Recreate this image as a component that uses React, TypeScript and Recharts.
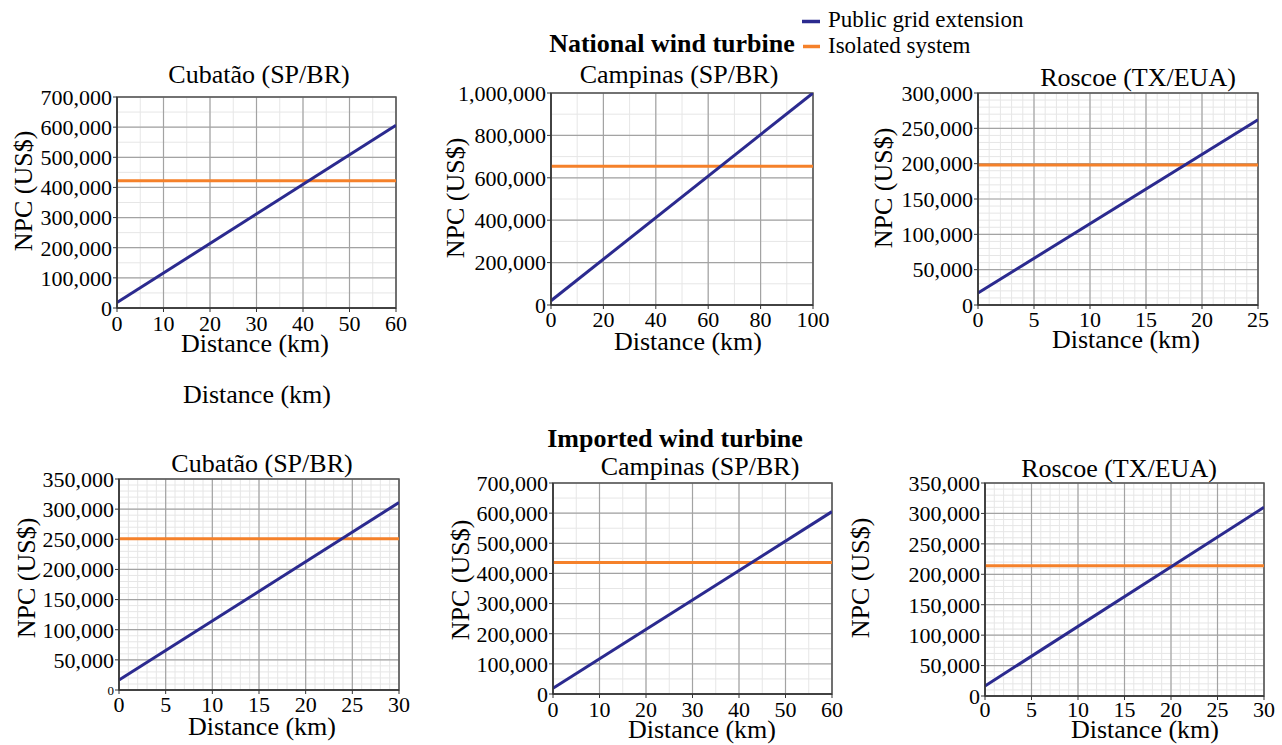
import {
  CartesianGrid,
  Line,
  LineChart,
  ReferenceArea,
  XAxis,
  YAxis,
} from 'recharts';

const FONT = 'Liberation Serif, DejaVu Serif, serif';
const BLUE = '#2b2a8f';
const ORANGE = '#f5812a';

// National wind turbine
const natCubataoDistance = [0, 60];
const natCubataoGrid = [18000, 606000];
const natCubataoIsolated = [422000, 422000];
const natCubataoXTicks = [0, 10, 20, 30, 40, 50, 60];
const natCubataoYTicks = [0, 100000, 200000, 300000, 400000, 500000, 600000, 700000];

const natCampinasDistance = [0, 100];
const natCampinasGrid = [20000, 1000000];
const natCampinasIsolated = [655000, 655000];
const natCampinasXTicks = [0, 20, 40, 60, 80, 100];
const natCampinasYTicks = [0, 200000, 400000, 600000, 800000, 1000000];

const natRoscoeDistance = [0, 25];
const natRoscoeGrid = [17000, 262000];
const natRoscoeIsolated = [198000, 198000];
const natRoscoeXTicks = [0, 5, 10, 15, 20, 25];
const natRoscoeYTicks = [0, 50000, 100000, 150000, 200000, 250000, 300000];

// Imported wind turbine
const impCubataoDistance = [0, 30];
const impCubataoGrid = [16500, 311000];
const impCubataoIsolated = [251000, 251000];
const impCubataoXTicks = [0, 5, 10, 15, 20, 25, 30];
const impCubataoYTicks = [0, 50000, 100000, 150000, 200000, 250000, 300000, 350000];

const impCampinasDistance = [0, 60];
const impCampinasGrid = [19000, 605000];
const impCampinasIsolated = [436000, 436000];
const impCampinasXTicks = [0, 10, 20, 30, 40, 50, 60];
const impCampinasYTicks = [0, 100000, 200000, 300000, 400000, 500000, 600000, 700000];

const impRoscoeDistance = [0, 30];
const impRoscoeGrid = [16500, 310000];
const impRoscoeIsolated = [214000, 214000];
const impRoscoeXTicks = [0, 5, 10, 15, 20, 25, 30];
const impRoscoeYTicks = [0, 50000, 100000, 150000, 200000, 250000, 300000, 350000];

// minor grid positions
const steps = (max: number, step: number) => {
  const out: number[] = [];
  for (let v = 0; v <= max + 1e-9; v += step) out.push(v);
  return out;
};

const fmt = (v: number) => v.toLocaleString('en-US');

type Plot = { left: number; top: number; right: number; bottom: number };

type PanelProps = {
  distance: number[];
  grid: number[];
  isolated: number[];
  xTicks: number[];
  yTicks: number[];
  xMinor: number;
  yMinor: number;
  plot: Plot;
  xGap?: number;
  zeroSize?: number;
};

const PAD_L = 110;
const PAD_T = 15;
const PAD_R = 25;
const PAD_B = 40;

function YTick(props: any) {
  const { x, y, payload, zeroSize } = props;
  const size = payload.value === 0 && zeroSize ? zeroSize : 22;
  return (
    <text x={x} y={y} dy="0.355em" textAnchor="end" fill="#000" fontSize={size} style={{ fontFamily: FONT }}>
      {fmt(payload.value)}
    </text>
  );
}

function Panel({
  distance,
  grid,
  isolated,
  xTicks,
  yTicks,
  xMinor,
  yMinor,
  plot,
  xGap = 2,
  zeroSize,
}: PanelProps) {
  const data = distance.map((d, i) => ({ distance: d, grid: grid[i], isolated: isolated[i] }));
  const xMax = xTicks[xTicks.length - 1];
  const yMax = yTicks[yTicks.length - 1];
  const width = plot.right - plot.left + PAD_L + PAD_R;
  const height = plot.bottom - plot.top + PAD_T + PAD_B;

  return (
    <div style={{ position: 'absolute', left: plot.left - PAD_L, top: plot.top - PAD_T, fontFamily: FONT }}>
      <LineChart
        width={width}
        height={height}
        data={data}
        margin={{ top: PAD_T, right: PAD_R, bottom: 0, left: 0 }}
        style={{ fontFamily: FONT }}
      >
        <CartesianGrid
          stroke="#e6e6e6"
          strokeWidth={1}
          verticalValues={steps(xMax, xMinor)}
          horizontalValues={steps(yMax, yMinor)}
        />
        <CartesianGrid
          stroke="#a3a3a3"
          strokeWidth={1.2}
          verticalValues={xTicks}
          horizontalValues={yTicks}
        />
        <XAxis
          dataKey="distance"
          type="number"
          domain={[0, xMax]}
          ticks={xTicks}
          allowDataOverflow
          interval={0}
          height={PAD_B}
          tickSize={4}
          tickMargin={xGap}
          axisLine={{ stroke: '#333', strokeWidth: 1.5 }}
          tickLine={{ stroke: '#333' }}
          tick={{ fill: '#000', fontSize: 22, style: { fontFamily: FONT } }}
        />
        <YAxis
          type="number"
          domain={[0, yMax]}
          ticks={yTicks}
          allowDataOverflow
          interval={0}
          width={PAD_L}
          tickSize={4}
          tickMargin={1}
          axisLine={{ stroke: '#333', strokeWidth: 1.5 }}
          tickLine={{ stroke: '#333' }}
          tick={(p: any) => <YTick {...p} zeroSize={zeroSize} />}
        />
        <ReferenceArea
          x1={0}
          x2={xMax}
          y1={0}
          y2={yMax}
          fill="none"
          stroke="#555"
          strokeWidth={1.5}
        />
        <Line
          dataKey="isolated"
          stroke={ORANGE}
          strokeWidth={3}
          dot={false}
          isAnimationActive={false}
        />
        <Line
          dataKey="grid"
          stroke={BLUE}
          strokeWidth={3}
          dot={false}
          isAnimationActive={false}
        />
      </LineChart>
    </div>
  );
}

function Label({ x, y, text, size = 26, bold = false }: { x: number; y: number; text: string; size?: number; bold?: boolean }) {
  return (
    <text x={x} y={y} textAnchor="middle" fontSize={size} fontWeight={bold ? 'bold' : 'normal'} fill="#000" style={{ fontFamily: FONT }}>
      {text}
    </text>
  );
}

function YLabel({ x, y }: { x: number; y: number }) {
  return (
    <text
      transform={`translate(${x},${y}) rotate(-90)`}
      textAnchor="middle"
      fontSize={26}
      fill="#000"
      style={{ fontFamily: FONT }}
    >
      NPC (US$)
    </text>
  );
}

export default function App() {
  return (
    <div style={{ position: 'absolute', left: 0, top: 0, width: 1282, height: 745, background: '#fff', overflow: 'hidden', fontFamily: FONT }}>
      <Panel
        distance={natCubataoDistance}
        grid={natCubataoGrid}
        isolated={natCubataoIsolated}
        xTicks={natCubataoXTicks}
        yTicks={natCubataoYTicks}
        xMinor={5}
        yMinor={50000}
        plot={{ left: 117, top: 97, right: 396, bottom: 308 }}
        xGap={3}
      />
      <Panel
        distance={natCampinasDistance}
        grid={natCampinasGrid}
        isolated={natCampinasIsolated}
        xTicks={natCampinasXTicks}
        yTicks={natCampinasYTicks}
        xMinor={10}
        yMinor={100000}
        plot={{ left: 551, top: 93, right: 813, bottom: 305 }}
      />
      <Panel
        distance={natRoscoeDistance}
        grid={natRoscoeGrid}
        isolated={natRoscoeIsolated}
        xTicks={natRoscoeXTicks}
        yTicks={natRoscoeYTicks}
        xMinor={1}
        yMinor={10000}
        plot={{ left: 978, top: 93, right: 1258, bottom: 305 }}
      />
      <Panel
        distance={impCubataoDistance}
        grid={impCubataoGrid}
        isolated={impCubataoIsolated}
        xTicks={impCubataoXTicks}
        yTicks={impCubataoYTicks}
        xMinor={1}
        yMinor={10000}
        plot={{ left: 119, top: 479, right: 399, bottom: 690 }}
        zeroSize={13}
      />
      <Panel
        distance={impCampinasDistance}
        grid={impCampinasGrid}
        isolated={impCampinasIsolated}
        xTicks={impCampinasXTicks}
        yTicks={impCampinasYTicks}
        xMinor={5}
        yMinor={50000}
        plot={{ left: 553, top: 483, right: 832, bottom: 694 }}
        xGap={3}
      />
      <Panel
        distance={impRoscoeDistance}
        grid={impRoscoeGrid}
        isolated={impRoscoeIsolated}
        xTicks={impRoscoeXTicks}
        yTicks={impRoscoeYTicks}
        xMinor={1}
        yMinor={10000}
        plot={{ left: 985, top: 483, right: 1264, bottom: 696 }}
        xGap={1}
      />

      <svg
        width={1282}
        height={745}
        style={{ position: 'absolute', left: 0, top: 0, pointerEvents: 'none', fontFamily: FONT }}
      >
        {/* legend */}
        <line x1={802} x2={820} y1={21.5} y2={21.5} stroke={BLUE} strokeWidth={3.5} />
        <line x1={803} x2={820} y1={46.5} y2={46.5} stroke={ORANGE} strokeWidth={3.5} />
        <text x={828} y={27} fontSize={23} fill="#000" style={{ fontFamily: FONT }}>Public grid extension</text>
        <text x={828} y={53} fontSize={23} fill="#000" style={{ fontFamily: FONT }}>Isolated system</text>

        <Label x={672} y={52} text="National wind turbine" bold />
        <Label x={259} y={83} text="Cubatão (SP/BR)" />
        <Label x={679} y={83} text="Campinas (SP/BR)" />
        <Label x={1138} y={86} text="Roscoe (TX/EUA)" />

        <YLabel x={32} y={191} />
        <YLabel x={464} y={198} />
        <YLabel x={892} y={188} />

        <Label x={255} y={352} text="Distance (km)" />
        <Label x={688} y={350} text="Distance (km)" />
        <Label x={1126} y={348} text="Distance (km)" />
        <Label x={257} y={403} text="Distance (km)" />

        <Label x={675} y={447} text="Imported wind turbine" bold />
        <Label x={262} y={472} text="Cubatão (SP/BR)" />
        <Label x={700} y={475} text="Campinas (SP/BR)" />
        <Label x={1119} y={477} text="Roscoe (TX/EUA)" />

        <YLabel x={35} y={578} />
        <YLabel x={469} y={580} />
        <YLabel x={869} y={578} />

        <Label x={262} y={735} text="Distance (km)" />
        <Label x={702} y={738} text="Distance (km)" />
        <Label x={1145} y={738} text="Distance (km)" />
      </svg>
    </div>
  );
}
